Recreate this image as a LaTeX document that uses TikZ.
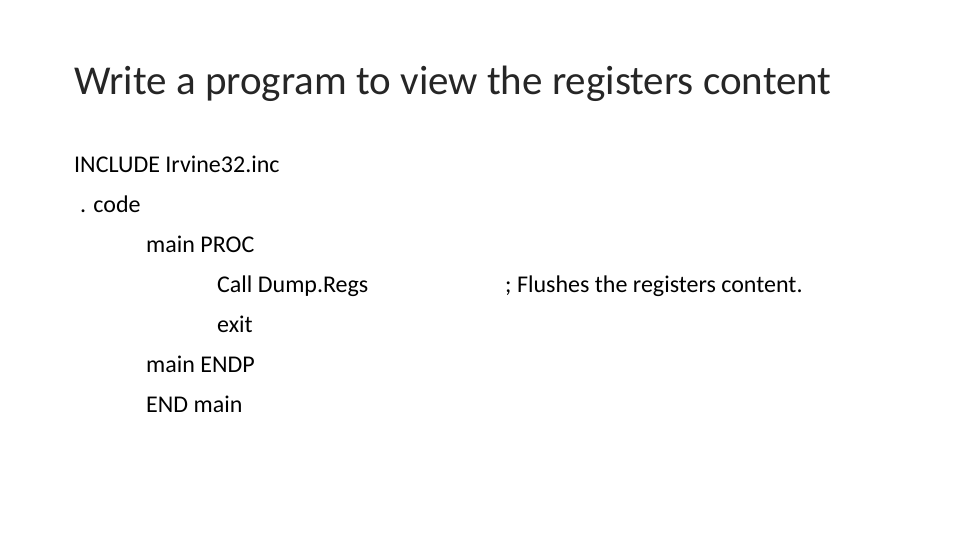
\documentclass[tikz,border=0pt]{standalone}
\usepackage{fontspec}
\setmainfont{Carlito}
\begin{document}
\begin{tikzpicture}[x=1pt,y=-1pt,
  body/.style={anchor=base west,inner sep=0pt,font=\fontsize{24}{28}\selectfont},
  ttl/.style={anchor=base west,inner sep=0pt,font=\fontsize{41}{48}\selectfont\color{black!85}}]
\useasboundingbox[fill=white] (0,0) rectangle (960,540);
\node[ttl] (title) at (74,95) {Write a program to view the registers content};
\node[body] (l1) at (74,172) {INCLUDE Irvine32.inc};
\node[body] (l2) at (80,212) {. code};
\node[body] (l3) at (146,252) {main PROC};
\node[body] (l4) at (217,292) {Call Dump.Regs};
\node[body] (c4) at (505,292) {; Flushes the registers content.};
\node[body] (l5) at (217,332) {exit};
\node[body] (l6) at (146,372) {main ENDP};
\node[body] (l7) at (146,412) {END main};
\end{tikzpicture}
\end{document}
